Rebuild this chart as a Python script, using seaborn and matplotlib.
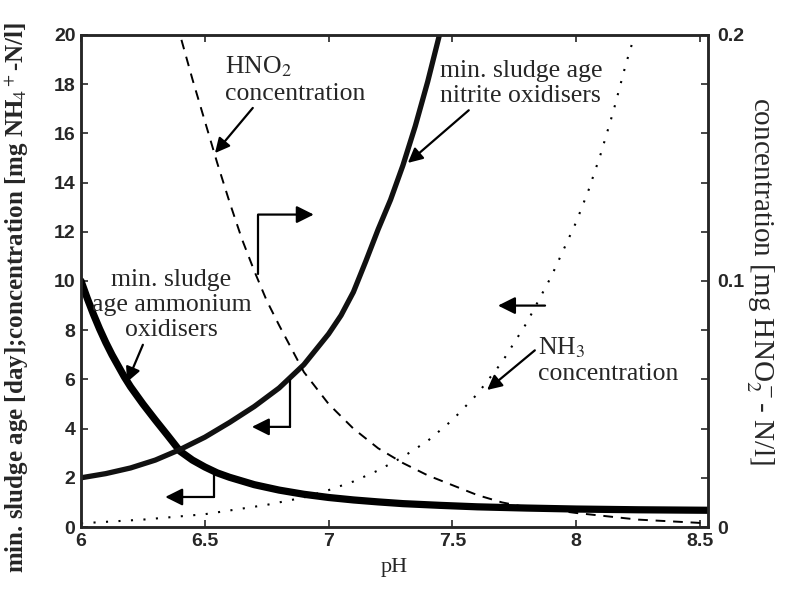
import numpy as np
import pandas as pd
import matplotlib
matplotlib.use('Agg')
import matplotlib.pyplot as plt
import seaborn as sns

# values (pH vs. value)
ph_amm = [6.0, 6.025, 6.05, 6.075, 6.1, 6.125, 6.15, 6.175, 6.2, 6.25, 6.3, 6.35, 6.4, 6.45, 6.5,
          6.55, 6.6, 6.7, 6.8, 6.9, 7.0, 7.1, 7.2, 7.3, 7.45, 7.6, 7.8, 8.0, 8.25, 8.53]
sludge_amm = [10.0, 9.3, 8.65, 8.05, 7.5, 7.0, 6.55, 6.1, 5.7, 5.0, 4.35, 3.72, 3.08, 2.72, 2.44,
              2.2, 2.02, 1.72, 1.5, 1.33, 1.2, 1.1, 1.02, 0.95, 0.88, 0.82, 0.77, 0.73, 0.7, 0.68]

ph_nit = [6.0, 6.1, 6.2, 6.3, 6.4, 6.5, 6.6, 6.7, 6.8, 6.9, 7.0, 7.05, 7.1, 7.15, 7.2, 7.25,
          7.3, 7.35, 7.4, 7.45, 7.47]
sludge_nit = [2.0, 2.17, 2.4, 2.72, 3.15, 3.65, 4.25, 4.9, 5.65, 6.6, 7.85, 8.6, 9.55, 10.8, 12.1,
              13.3, 14.7, 16.3, 18.1, 20.1, 21.0]

ph_hno2 = [6.38, 6.4, 6.45, 6.5, 6.55, 6.6, 6.65, 6.7, 6.75, 6.8, 6.9, 7.0, 7.1, 7.2, 7.3, 7.4,
           7.5, 7.6, 7.7, 7.8, 7.9, 8.0, 8.25, 8.53]
conc_hno2 = [0.212, 0.2, 0.182, 0.165, 0.148, 0.132, 0.117, 0.104, 0.092, 0.082, 0.063, 0.05,
             0.04, 0.032, 0.026, 0.021, 0.017, 0.013, 0.010, 0.008, 0.007, 0.0057, 0.003, 0.0015]

ph_nh3 = [6.0, 6.25, 6.5, 6.75, 6.9, 7.0, 7.1, 7.2, 7.3, 7.4, 7.5, 7.6, 7.7, 7.8, 7.9, 8.0,
          8.05, 8.1, 8.15, 8.2, 8.23]
conc_nh3 = [0.15, 0.3, 0.52, 0.9, 1.2, 1.5, 1.85, 2.3, 2.85, 3.5, 4.35, 5.4, 6.7, 8.3, 10.2,
            12.4, 13.7, 15.2, 16.9, 18.8, 19.8]

left_ticks = [0, 2, 4, 6, 8, 10, 12, 14, 16, 18, 20]
right_ticks = [0, 0.02, 0.04, 0.06, 0.08, 0.1, 0.12, 0.14, 0.16, 0.18, 0.2]
right_labels = ['0', '', '', '', '', '0.1', '', '', '', '', '0.2']
x_ticks = [6, 6.5, 7, 7.5, 8, 8.5]
x_labels = ['6', '6.5', '7', '7.5', '8', '8.5']

sns.set_style('ticks')
plt.rcParams['mathtext.fontset'] = 'stix'
serif = 'Liberation Serif'
sansb = dict(family='Liberation Sans', weight='bold', size=14)

fig, ax = plt.subplots(figsize=(7.89, 5.99), dpi=100)
fig.subplots_adjust(left=0.1027, right=0.8973, top=0.9416, bottom=0.1202)
ax2 = ax.twinx()

amm = pd.DataFrame({'pH': ph_amm, 'age': sludge_amm})
nit = pd.DataFrame({'pH': ph_nit, 'age': sludge_nit})
hno2 = pd.DataFrame({'pH': ph_hno2, 'conc': conc_hno2})
nh3 = pd.DataFrame({'pH': ph_nh3, 'conc': conc_nh3})

sns.lineplot(data=amm, x='pH', y='age', ax=ax, color='black', lw=5.2, sort=False)
sns.lineplot(data=nit, x='pH', y='age', ax=ax, color='#111111', lw=3.8, sort=False)
sns.lineplot(data=nh3, x='pH', y='conc', ax=ax, color='black', lw=1.5, sort=False,
             linestyle=(0, (1, 5)))
sns.lineplot(data=hno2, x='pH', y='conc', ax=ax2, color='black', lw=1.4, sort=False,
             linestyle=(0, (5, 4)))

ax.set_xlim(6, 8.532)
ax.set_ylim(0, 20)
ax2.set_ylim(0, 0.2)

ax.set_xticks(x_ticks)
ax.set_xticklabels(x_labels, fontdict=sansb)
ax.set_yticks(left_ticks)
ax.set_yticklabels([str(t) for t in left_ticks], fontdict=sansb)
ax2.set_yticks(right_ticks)
ax2.set_yticklabels(right_labels, fontdict=sansb)

ax.tick_params(axis='both', direction='in', length=5, width=1.2, top=True, pad=4)
ax2.tick_params(axis='y', direction='in', length=5, width=1.2, pad=7)
for a in (ax, ax2):
    for s in a.spines.values():
        s.set_linewidth(1.8)
        s.set_visible(True)

ax.set_xlabel('pH', family=serif, fontsize=16, labelpad=6)
ax.set_ylabel('min. sludge age [day];concentration [mg NH$_4$$^+$-N/l]', family=serif,
              fontsize=18, weight='bold')
ax.yaxis.set_label_coords(-0.08, 0.4675)
ax2.set_ylabel('concentration [mg HNO$_2^-$- N/l]', family=serif, fontsize=21,
               rotation=270, labelpad=22)

txt = dict(family=serif, fontsize=18.5, linespacing=1.2)
arr = dict(arrowstyle='-|>', color='black', lw=1.6, mutation_scale=22, shrinkA=0, shrinkB=0)

# labels with pointer arrows
ax.annotate('HNO$_2$\nconcentration', xy=(6.541, 15.2), xytext=(6.58, 19.2),
            ha='left', va='top', arrowprops=dict(arr, relpos=(0.22, 0.0)), **txt)
ax.annotate('min. sludge age\nnitrite oxidisers', xy=(7.32, 14.8), xytext=(7.45, 19.0),
            ha='left', va='top', arrowprops=dict(arr, relpos=(0.2, 0.0)), **txt)
ax.annotate('min. sludge\nage ammonium\noxidisers', xy=(6.186, 5.89), xytext=(6.365, 10.5),
            ha='center', va='top', arrowprops=dict(arr, relpos=(0.33, 0.0)), **txt)
ax.annotate('NH$_3$\nconcentration', xy=(7.64, 5.57), xytext=(7.846, 7.8),
            ha='left', va='top', arrowprops=dict(arr, relpos=(0.0, 0.75)), **txt)

# axis pointer arrows (L-shaped)
def l_arrow(x0, y0, x1, y1, x2):
    ax.plot([x0, x1], [y0, y1], color='black', lw=1.6)
    ax.annotate('', xy=(x2, y1), xytext=(x1, y1), arrowprops=dict(arr, mutation_scale=26))

l_arrow(6.715, 10.3, 6.715, 12.7, 6.94)
l_arrow(6.844, 5.98, 6.844, 4.07, 6.69)
l_arrow(6.537, 2.2, 6.537, 1.22, 6.34)
ax.annotate('', xy=(7.684, 9.0), xytext=(7.874, 9.0), arrowprops=dict(arr, mutation_scale=26))

fig.savefig('out.png', dpi=100)
